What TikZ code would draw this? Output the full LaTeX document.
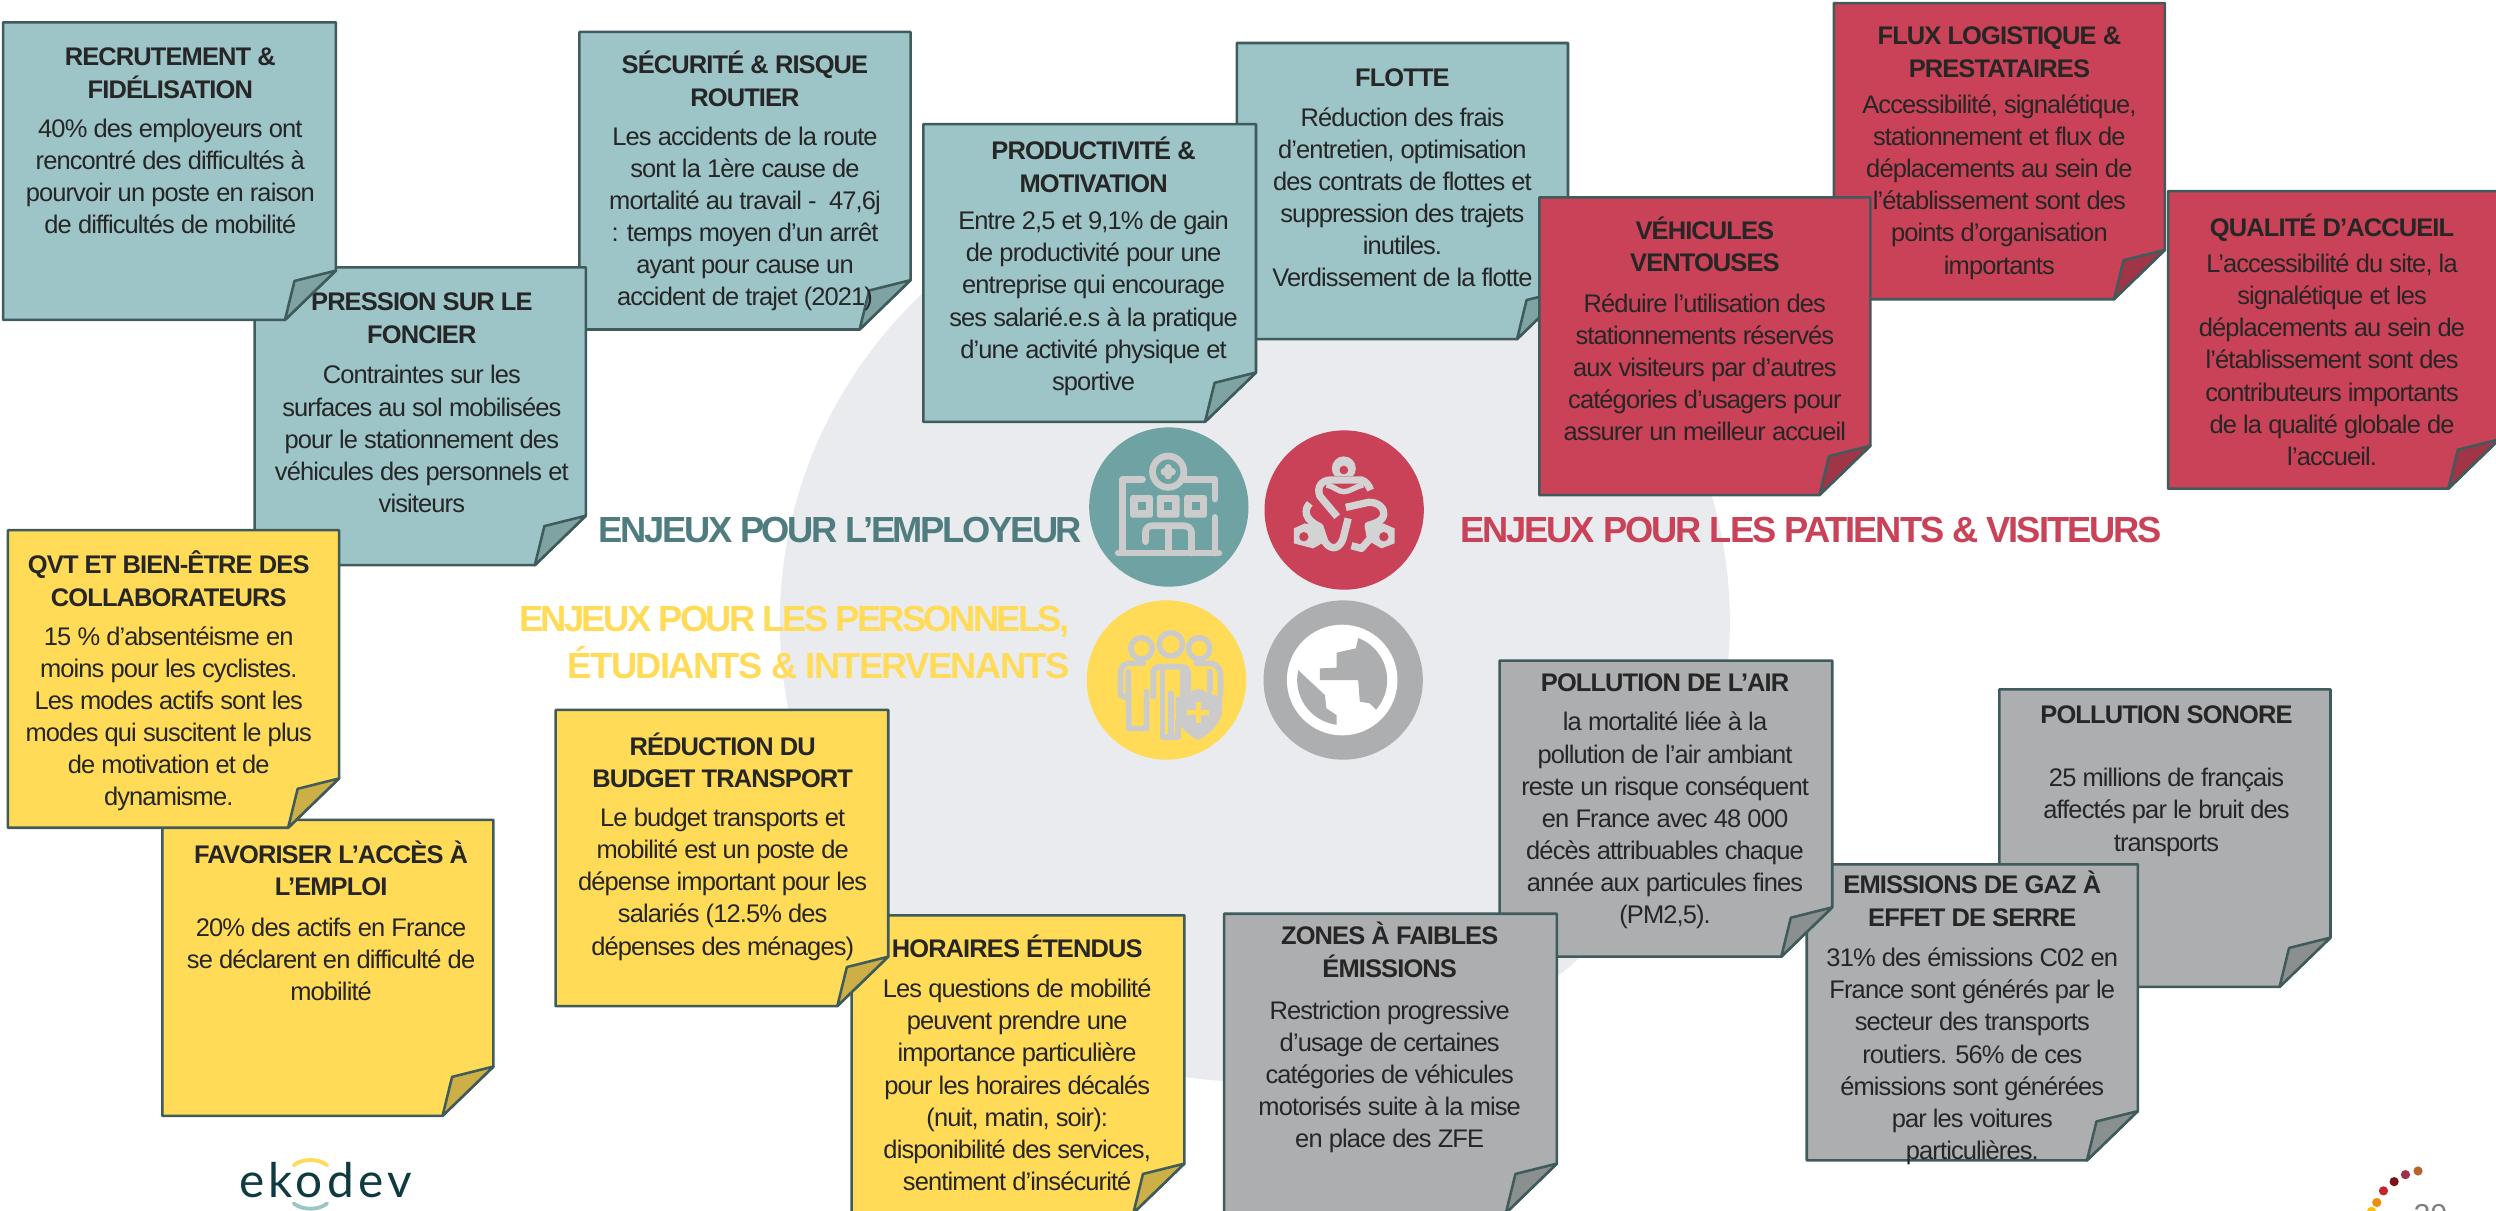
\documentclass[tikz,border=0pt]{standalone}
\usepackage{fontspec}
\setmainfont{Liberation Sans}
\newfontfamily\bodyf[LetterSpace=-3.5]{Liberation Sans}
\newfontfamily\titlef[LetterSpace=-3.5]{Liberation Sans}
\newfontfamily\headA[LetterSpace=-6.5]{Liberation Sans}
\newfontfamily\headB[LetterSpace=-5.6]{Liberation Sans}
\newfontfamily\headC[LetterSpace=-7.3]{Liberation Sans}
\newfontfamily\headD[LetterSpace=-4.5]{Liberation Sans}
\newfontfamily\logof[LetterSpace=9]{Lato}
\definecolor{tealn}{HTML}{9DC4C6}\definecolor{tealf}{HTML}{7FA3A3}
\definecolor{redn}{HTML}{C94257}\definecolor{redf}{HTML}{A03547}
\definecolor{yeln}{HTML}{FFDB58}\definecolor{yelf}{HTML}{CCAF46}
\definecolor{grayn}{HTML}{ADAEB0}\definecolor{grayf}{HTML}{8A8F8F}
\definecolor{edgec}{HTML}{3F5B5B}\definecolor{inkc}{HTML}{262626}
\definecolor{blob}{HTML}{E9EBEF}\definecolor{tealc}{HTML}{6FA2A3}
\definecolor{tealh}{HTML}{4F7C7E}\definecolor{icon}{HTML}{CBCBCB}
\definecolor{logoc}{HTML}{0F3A40}\definecolor{pagec}{HTML}{808080}
\definecolor{dotA}{HTML}{B5652B}\definecolor{dotB}{HTML}{A0304A}
\definecolor{dotC}{HTML}{7A1414}\definecolor{dotD}{HTML}{C8232B}
\definecolor{dotE}{HTML}{F08C10}\definecolor{dotF}{HTML}{FFC000}
\tikzset{
  paper/.style={draw=edgec,line width=1.6pt,line join=round},
  notetitle/.style={anchor=north,align=center,inner sep=0pt,text=inkc,font=\titlef\bfseries\fontsize{16}{20.4}\selectfont},
  notebody/.style={anchor=north,align=center,inner sep=0pt,text=inkc,font=\bodyf\fontsize{16}{20.2}\selectfont},
  headline/.style={inner sep=0pt,text depth=0pt},
  iconline/.style={draw=icon,line cap=round,line join=round,line width=#1},
  iconline/.default=4pt,
  redline/.style={draw=icon!85!white,line join=round,line width=#1}
}
\newcommand\notepaper[6]{%
  \path[paper,fill=#5] (#1,#2) -- (#3,#2) -- (#3,#4-31) -- (#3-32,#4) -- (#1,#4) -- cycle;
  \path[paper,fill=#6] (#3,#4-31) -- (#3-26,#4-24.5) -- (#3-32,#4) -- cycle;
}
\newcommand\ttl[4]{\node[notetitle] (#1) at (#2,#3-14) {\rule{0pt}{14pt}#4};}
\newcommand\bdy[4]{\node[notebody] (#1) at (#2,#3-14) {\rule{0pt}{14pt}#4};}
\begin{document}
\begin{tikzpicture}[x=1pt,y=-1pt]
\useasboundingbox (0,0) rectangle (1568,760.75);
\clip (0,0) rectangle (1568,760.75);
\fill[white] (0,0) rectangle (1568,760.75);
\fill[blob] (788.3,390.7) ellipse [x radius=298.4,y radius=289];

% teal
\notepaper{777}{27}{985}{213}{tealn}{tealf}
\ttl{t5}{881}{54}{FLOTTE}
\bdy{b5}{881}{79}{Réduction des frais\\d’entretien, optimisation\\des contrats de flottes et\\suppression des trajets\\inutiles.\\Verdissement de la flotte}
\notepaper{580}{78}{789}{265}{tealn}{tealf}
\ttl{t4}{687}{100}{PRODUCTIVITÉ \&\\MOTIVATION}
\bdy{b4}{687}{144}{Entre 2,5 et 9,1\% de gain\\de productivité pour une\\entreprise qui encourage\\ses salarié.e.s à la pratique\\d’une activité physique et\\sportive}
\notepaper{364}{20}{572}{207}{tealn}{tealf}
\ttl{t3}{468}{46}{SÉCURITÉ \& RISQUE\\ROUTIER}
\bdy{b3}{468}{91}{Les accidents de la route\\sont la 1ère cause de\\mortalité au travail -\ \ 47,6j\\: temps moyen d’un arrêt\\ayant pour cause un\\accident de trajet (2021)}
\notepaper{160}{168}{368}{355}{tealn}{tealf}
\ttl{t2}{265}{195}{PRESSION SUR LE\\FONCIER}
\bdy{b2}{265}{241}{Contraintes sur les\\surfaces au sol mobilisées\\pour le stationnement des\\véhicules des personnels et\\visiteurs}
\notepaper{2}{14}{211}{201}{tealn}{tealf}
\ttl{t1}{107}{41}{RECRUTEMENT \&\\FIDÉLISATION}
\bdy{b1}{107}{86}{40\% des employeurs ont\\rencontré des difficultés à\\pourvoir un poste en raison\\de difficultés de mobilité}

% red
\notepaper{1152}{2}{1360}{188}{redn}{redf}
\ttl{t7}{1256}{28}{FLUX LOGISTIQUE \&\\PRESTATAIRES}
\bdy{b7}{1256}{71}{Accessibilité, signalétique,\\stationnement et flux de\\déplacements au sein de\\l’établissement sont des\\points d’organisation\\importants}
\notepaper{967}{124}{1175}{311}{redn}{redf}
\ttl{t6}{1071}{150}{VÉHICULES\\VENTOUSES}
\bdy{b6}{1071}{196}{Réduire l’utilisation des\\stationnements réservés\\aux visiteurs par d’autres\\catégories d’usagers pour\\assurer un meilleur accueil}
\notepaper{1362}{120}{1570}{307}{redn}{redf}
\ttl{t8}{1465}{148}{QUALITÉ D’ACCUEIL}
\bdy{b8}{1465}{171}{L’accessibilité du site, la\\signalétique et les\\déplacements au sein de\\l’établissement sont des\\contributeurs importants\\de la qualité globale de\\l’accueil.}

% yellow
\notepaper{102}{515}{310}{701}{yeln}{yelf}
\ttl{t10}{208}{542}{FAVORISER L’ACCÈS À\\L’EMPLOI}
\bdy{b10}{208}{588}{20\% des actifs en France\\se déclarent en difficulté de\\mobilité}
\notepaper{5}{333}{213}{520}{yeln}{yelf}
\ttl{t9}{106}{360}{QVT ET BIEN-ÊTRE DES\\COLLABORATEURS}
\bdy{b9}{106}{405}{15 \% d’absentéisme en\\moins pour les cyclistes.\\Les modes actifs sont les\\modes qui suscitent le plus\\de motivation et de\\dynamisme.}
\notepaper{535}{575}{744}{762}{yeln}{yelf}
\ttl{t12}{639}{601}{HORAIRES ÉTENDUS}
\bdy{b12}{639}{626.5}{Les questions de mobilité\\peuvent prendre une\\importance particulière\\pour les horaires décalés\\(nuit, matin, soir):\\disponibilité des services,\\sentiment d’insécurité}
\notepaper{349}{446}{558}{632}{yeln}{yelf}
\ttl{t11}{454}{474}{RÉDUCTION DU\\BUDGET TRANSPORT}
\bdy{b11}{454}{519}{Le budget transports et\\mobilité est un poste de\\dépense important pour les\\salariés (12.5\% des\\dépenses des ménages)}

% grey
\notepaper{1256}{433}{1464}{620}{grayn}{grayf}
\ttl{t14}{1361}{454}{POLLUTION SONORE}
\bdy{b14}{1361}{494}{25 millions de français\\affectés par le bruit des\\transports}
\notepaper{1135}{543}{1343}{729}{grayn}{grayf}
\ttl{t15}{1239}{561}{EMISSIONS DE GAZ À\\EFFET DE SERRE}
\bdy{b15}{1239}{607}{31\% des émissions C02 en\\France sont générés par le\\secteur des transports\\routiers. 56\% de ces\\émissions sont générées\\par les voitures\\particulières.}
\notepaper{942}{415}{1151}{601}{grayn}{grayf}
\ttl{t13}{1046}{434}{POLLUTION DE L’AIR}
\bdy{b13}{1046}{459}{la mortalité liée à la\\pollution de l’air ambiant\\reste un risque conséquent\\en France avec 48 000\\décès attribuables chaque\\année aux particules fines\\(PM2,5).}
\notepaper{769}{574}{978}{762}{grayn}{grayf}
\ttl{t16}{873}{593}{ZONES À FAIBLES\\ÉMISSIONS}
\bdy{b16}{873}{640}{Restriction progressive\\d’usage de certaines\\catégories de véhicules\\motorisés suite à la mise\\en place des ZFE}

% headlines
\node[headline,text=tealh,anchor=base east,font=\headA\bfseries\fontsize{22.8}{29}\selectfont] (h1) at (680,341) {ENJEUX POUR L’EMPLOYEUR};
\node[headline,text=redn,anchor=base west,font=\headB\bfseries\fontsize{22.8}{29}\selectfont] (h2) at (917,341) {ENJEUX POUR LES PATIENTS \& VISITEURS};
\node[headline,text=yeln,anchor=base east,font=\headC\bfseries\fontsize{22.8}{29}\selectfont] (h3a) at (672,397) {ENJEUX POUR LES PERSONNELS,};
\node[headline,text=yeln,anchor=base east,font=\headD\bfseries\fontsize{22.8}{29}\selectfont] (h3b) at (672,426) {ÉTUDIANTS \& INTERVENANTS};

% icons, in a local pixel grid
\begin{scope}[shift={(628.1,251.3)},x=0.2094pt,y=-0.2094pt]
  \fill[tealc] (507,321) circle (239);
  \fill[redn] (1033,330) circle (239);
  \fill[yeln] (500,840) circle (239);
  \fill[grayn] (1030,840) circle (239);
  % hospital
  \draw[iconline=4.2pt] (355,459) -- (657,459);
  \draw[iconline=4.2pt] (428,238) -- (367,238) -- (367,459);
  \draw[iconline=4.2pt] (550,238) -- (645,238) -- (645,297);
  \draw[iconline=4.2pt] (645,352) -- (645,459);
  \draw[iconline=4.2pt] (505,215) circle (47);
  \fill[icon] (505,203) circle (11) (505,227) circle (11) (493,215) circle (11) (517,215) circle (11);
  \foreach \wx in {425,505,587}{
    \fill[icon,rounded corners=1.5pt] (\wx-34,285) rectangle (\wx+34,353);
    \fill[tealc] (\wx-12,307) rectangle (\wx+12,331);
  }
  \draw[iconline=4.2pt] (437,425) -- (437,398) .. controls (437,385) and (445,377) .. (458,377) -- (550,377) .. controls (565,377) and (575,385) .. (575,398) -- (575,459);
  \draw[draw=icon,line width=4.2pt] (505,377) -- (505,459);
  % linked people
  \fill[icon!85!white] (1032,205) circle (36);
  \fill[redn] (1000,228) rectangle (1065,250);
  \fill[redn] (1032,210) circle (13);
  \draw[redline=4.6pt] (1012,350) -- (960,288) .. controls (950,260) and (965,242) .. (990,240) -- (1085,240) .. controls (1100,245) and (1108,258) .. (1112,270);
  \draw[redline=3.4pt] (980,255) .. controls (1005,260) and (1015,275) .. (1032,275) .. controls (1050,275) and (1065,260) .. (1090,255);
  \draw[redline=4.6pt] (1038,322) -- (1105,307) .. controls (1135,305) and (1155,325) .. (1152,345) .. controls (1148,360) and (1135,368) .. (1105,376) -- (1112,415) -- (1085,445) -- (1055,437);
  \draw[redline=4.6pt] (930,310) .. controls (910,330) and (915,360) .. (960,380) -- (975,425) .. controls (995,455) and (1020,445) .. (1030,415) -- (1045,355);
  \fill[icon!85!white] (882,385) -- (915,370) -- (965,380) -- (975,425) -- (940,445) -- (882,430) -- cycle;
  \fill[icon!85!white] (1184,385) -- (1150,370) -- (1105,376) -- (1110,425) -- (1145,445) -- (1184,430) -- cycle;
  \fill[redn] (912,410) circle (14);
  \fill[redn] (1152,410) circle (14);
  % people with shield
  \draw[iconline=3.4pt] (425,745) circle (32);
  \draw[iconline=3.4pt] (513,733) circle (35);
  \draw[iconline=3.4pt] (598,745) circle (32);
  \draw[iconline=3.6pt] (385,815) -- (387,985) -- (440,985) -- (440,875);
  \draw[iconline=3.6pt] (430,790) -- (385,790) .. controls (368,795) and (362,805) .. (362,820) -- (362,885) -- (385,895);
  \draw[iconline=3.6pt] (460,890) -- (460,820) .. controls (460,805) and (470,800) .. (485,800) -- (545,800) .. controls (560,800) and (565,810) .. (565,825) -- (565,870);
  \draw[iconline=3.6pt] (488,815) -- (488,1010) -- (535,1010) -- (535,960);
  \draw[iconline=3.6pt] (513,880) -- (513,1005);
  \draw[iconline=3.6pt] (550,815) -- (550,890);
  \draw[iconline=3.6pt] (590,790) -- (635,790) .. controls (655,795) and (662,810) .. (662,825) -- (662,885);
  \draw[iconline=3.6pt] (630,815) -- (630,870);
  \fill[icon] (527,893) -- (595,866) -- (667,893) -- (667,935) .. controls (660,975) and (625,1005) .. (595,1020) .. controls (565,1005) and (530,975) .. (527,935) -- cycle;
  \fill[yeln] (587,905) rectangle (603,970);
  \fill[yeln] (562,929) rectangle (628,945);
  % globe
  \fill[white] (1027,840) circle (166);
  \begin{scope}
    \clip (1027,840) circle (135);
    \fill[grayn] (895,810) -- (975,885) -- (980,925) -- (1010,945) -- (1010,1000) -- (850,1000) -- (850,810) -- cycle;
    \fill[grayn] (1075,700) -- (1075,715) -- (1068,745) -- (1010,758) -- (1010,803) -- (960,805) -- (960,840) -- (1075,840) -- (1080,905) -- (1110,910) -- (1130,930) -- (1200,930) -- (1200,700) -- cycle;
  \end{scope}
\end{scope}

% logo
\node[anchor=base west,inner sep=0pt,text=logoc,font=\logof\fontsize{30}{30}\selectfont] (logo) at (150,752.5) {ekodev};
\draw[yeln,line width=2.4pt,line cap=round] (184.5,732) .. controls (190,727.6) and (200,727.6) .. (205.5,732);
\draw[tealn,line width=2.4pt,line cap=round] (184.5,756) .. controls (190,760.4) and (200,760.4) .. (205.5,756);

% page mark
\fill[dotA] (1519,735.6) circle (2.9);
\fill[dotB] (1511.1,737.9) circle (2.9);
\fill[dotC] (1504,742.3) circle (2.9);
\fill[dotD] (1497.3,748.1) circle (2.9);
\fill[dotE] (1493.1,755.4) circle (2.9);
\fill[dotF] (1489.8,761) circle (2.9);
\node[anchor=base west,inner sep=0pt,text=pagec,font=\fontsize{19}{19}\selectfont] (pg) at (1516,769.6) {20};
\end{tikzpicture}
\end{document}
